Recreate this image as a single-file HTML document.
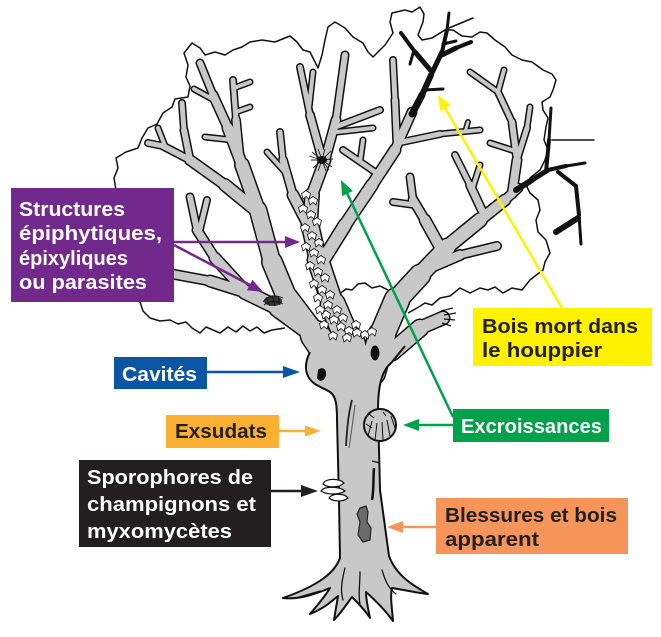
<!DOCTYPE html>
<html><head><meta charset="utf-8"><style>
html,body{margin:0;padding:0;background:#fff;}
svg{display:block;}
text{font-family:"Liberation Sans",Arial,sans-serif;font-weight:700;font-size:20px;}
</style></head><body>
<svg width="661" height="637" viewBox="0 0 661 637" xmlns="http://www.w3.org/2000/svg">
<defs>
<path id="lf" d="M0,-4.5 L4.5,-1.5 L3,4 L0,1.5 L-3,4 L-4.5,-1.5 Z" fill="#fff" stroke="#111" stroke-width="0.8"/>
</defs>
<rect width="661" height="637" fill="#fff"/>

<g fill="none" stroke="#111" stroke-width="1.5" stroke-linejoin="round">
<path d="M150,318 L143,311 L140,302 L132,294 L128,280 L122,265 L118,250 L116,230 L114,210 L116,190 L114,178 L118,168 L116,158 L126,152 L138,148 L142,138 L148,128 L157,124 L163,113 L172,107 L175,99 L188,97 L190,86 L186,77 L188,65 L184,53 L192,43 L200,48 L205,55 L215,52 L225,55 L233,50 L242,47 L250,42 L262,40 L275,42 L290,36 L297,42 L303,50 L310,52 L318,68 L322,55 L325,40 L328,27 L335,22 L345,28 L353,37 L363,43 L368,52 L373,57 L380,50 L385,45 L393,33 L390,22 L392,13 L405,10 L412,12 L420,7 L424,14 L423,22 L418,35 L422,40 L432,38 L445,30 L453,30 L462,36 L472,37 L480,32 L487,33 L495,40 L505,47 L512,55 L522,60 L532,62 L543,70 L552,74 L556,80 L553,90 L550,97 L542,102 L543,110 L548,118 L546,127 L544,140 L548,150 L545,160 L540,170 L530,178 L527,187 L530,193 L538,200 L540,210 L536,220 L538,232 L546,240 L550,253 L545,262 L543,270 L535,276 L530,280 L522,290 L512,288 L503,293 L495,287 L488,290 L480,288 L470,293 L460,288 L450,296 L440,298 L432,305 L425,303 L417,308 L408,313"/>
<path d="M150,318 L160,321 L170,320 L178,324 L186,322 L192,328 L200,333 L206,327 L213,330 L220,333 L228,327 L236,332 L243,326 L250,331 L257,327 L264,333 L272,330 L285,328"/>
<path d="M338,295 L346,289 L352,290 L358,284 L365,283 L372,288 L380,286 L388,290"/>
</g>

<g fill="none" stroke="#111" stroke-linecap="round" stroke-linejoin="round">
<path d="M340,372 L315,335" stroke-width="31"/>
<path d="M315,335 L287,298" stroke-width="24"/>
<path d="M287,298 L272,262" stroke-width="22"/>
<path d="M272,262 L258,210" stroke-width="19"/>
<path d="M258,210 L242,165" stroke-width="16"/>
<path d="M242,165 L228,128" stroke-width="13"/>
<path d="M228,128 L213,95" stroke-width="11"/>
<path d="M213,95 L200,63" stroke-width="9"/>
<path d="M240,160 L236,120" stroke-width="10"/>
<path d="M236,120 L233,80" stroke-width="8"/>
<path d="M236,112 L250,107" stroke-width="7"/>
<path d="M234,88 L250,82" stroke-width="7"/>
<path d="M232,140 L205,137" stroke-width="7"/>
<path d="M214,100 L194,89" stroke-width="7"/>
<path d="M258,212 L225,185" stroke-width="14"/>
<path d="M225,185 L190,160" stroke-width="12"/>
<path d="M190,160 L163,146" stroke-width="9"/>
<path d="M163,146 L148,143" stroke-width="8"/>
<path d="M190,160 L184,130" stroke-width="9"/>
<path d="M184,130 L182,103" stroke-width="8"/>
<path d="M165,146 L158,128" stroke-width="7"/>
<path d="M315,335 L278,308" stroke-width="20"/>
<path d="M278,308 L245,292" stroke-width="16"/>
<path d="M245,292 L210,281" stroke-width="13"/>
<path d="M210,281 L172,274" stroke-width="11"/>
<path d="M248,294 L215,258" stroke-width="13"/>
<path d="M215,258 L197,230" stroke-width="11"/>
<path d="M197,230 L190,197" stroke-width="9"/>
<path d="M199,233 L207,200" stroke-width="8"/>
<path d="M355,372 L350,345" stroke-width="33"/>
<path d="M350,345 L333,305" stroke-width="27"/>
<path d="M333,305 L318,260" stroke-width="23"/>
<path d="M318,260 L310,225" stroke-width="19"/>
<path d="M310,225 L312,195" stroke-width="16"/>
<path d="M312,195 L325,160" stroke-width="13"/>
<path d="M325,160 L336,120" stroke-width="11"/>
<path d="M336,120 L345,55" stroke-width="9"/>
<path d="M338,126 L380,110" stroke-width="8"/>
<path d="M337,132 L373,128" stroke-width="7"/>
<path d="M323,162 L310,115" stroke-width="10"/>
<path d="M310,115 L300,67" stroke-width="8"/>
<path d="M309,108 L313,72" stroke-width="7"/>
<path d="M312,232 L293,195" stroke-width="13"/>
<path d="M293,195 L283,160" stroke-width="10"/>
<path d="M283,160 L280,132" stroke-width="8"/>
<path d="M285,172 L267,152" stroke-width="7"/>
<path d="M322,262 L345,225" stroke-width="15"/>
<path d="M345,225 L372,185" stroke-width="14"/>
<path d="M372,185 L395,150" stroke-width="13"/>
<path d="M395,150 L412,112" stroke-width="11"/>
<path d="M397,147 L395,100" stroke-width="9"/>
<path d="M395,100 L393,60" stroke-width="8"/>
<path d="M402,142 L440,134" stroke-width="8"/>
<path d="M440,134 L480,130" stroke-width="7"/>
<path d="M465,132 L468,122" stroke-width="6"/>
<path d="M375,172 L343,150" stroke-width="8"/>
<path d="M360,162 L363,140" stroke-width="7"/>
<path d="M372,372 L382,335" stroke-width="29"/>
<path d="M382,335 L397,300" stroke-width="27"/>
<path d="M397,300 L420,275" stroke-width="23"/>
<path d="M420,275 L447,247" stroke-width="19"/>
<path d="M447,247 L480,220" stroke-width="16"/>
<path d="M480,220 L505,200" stroke-width="13"/>
<path d="M505,200 L518,188" stroke-width="11"/>
<path d="M440,247 L425,220" stroke-width="13"/>
<path d="M425,220 L413,200" stroke-width="11"/>
<path d="M413,200 L410,177" stroke-width="9"/>
<path d="M415,205 L393,202" stroke-width="8"/>
<path d="M425,270 L460,255" stroke-width="12"/>
<path d="M460,255 L497,246" stroke-width="10"/>
<path d="M485,217 L470,185" stroke-width="10"/>
<path d="M470,185 L455,155" stroke-width="8"/>
<path d="M472,190 L480,165" stroke-width="7"/>
<path d="M512,194 L517,160" stroke-width="11"/>
<path d="M517,160 L512,122" stroke-width="9"/>
<path d="M512,122 L498,92" stroke-width="8"/>
<path d="M498,92 L470,72" stroke-width="7"/>
<path d="M498,92 L504,70" stroke-width="7"/>
<path d="M517,160 L527,128" stroke-width="8"/>
<path d="M527,128 L530,107" stroke-width="7"/>
<path d="M518,152 L490,143" stroke-width="7"/>
<path d="M392,352 L420,328" stroke-width="19"/>
<path d="M420,328 L443,318" stroke-width="15"/>
</g>

<path d="M310,352 C306,360 304,368 308,376 C312,385 322,387 330,392 C336,396 337,405 337,420 L339,500 L340,558 C335,572 320,585 283,598 C300,600 318,593 330,588 C324,598 315,608 310,614 C325,608 333,600 338,596 L334,620 C342,612 348,602 352,597 C358,603 365,610 370,618 C368,608 366,600 366,592 C375,600 385,610 393,621 C392,608 390,597 392,588 C405,590 418,593 428,594 C412,585 396,575 389,556 L380,490 L378,410 C378,385 382,370 392,362 L405,346 L392,345 L372,350 L355,352 L335,350 L325,348 Z" fill="#c8c8c8"/>

<g fill="none" stroke="#c8c8c8" stroke-linecap="round" stroke-linejoin="round">
<path d="M340,372 L315,335" stroke-width="28"/>
<path d="M315,335 L287,298" stroke-width="21"/>
<path d="M287,298 L272,262" stroke-width="19"/>
<path d="M272,262 L258,210" stroke-width="16"/>
<path d="M258,210 L242,165" stroke-width="13"/>
<path d="M242,165 L228,128" stroke-width="10"/>
<path d="M228,128 L213,95" stroke-width="8"/>
<path d="M213,95 L200,63" stroke-width="6"/>
<path d="M240,160 L236,120" stroke-width="7"/>
<path d="M236,120 L233,80" stroke-width="5"/>
<path d="M236,112 L250,107" stroke-width="4"/>
<path d="M234,88 L250,82" stroke-width="4"/>
<path d="M232,140 L205,137" stroke-width="4"/>
<path d="M214,100 L194,89" stroke-width="4"/>
<path d="M258,212 L225,185" stroke-width="11"/>
<path d="M225,185 L190,160" stroke-width="9"/>
<path d="M190,160 L163,146" stroke-width="6"/>
<path d="M163,146 L148,143" stroke-width="5"/>
<path d="M190,160 L184,130" stroke-width="6"/>
<path d="M184,130 L182,103" stroke-width="5"/>
<path d="M165,146 L158,128" stroke-width="4"/>
<path d="M315,335 L278,308" stroke-width="17"/>
<path d="M278,308 L245,292" stroke-width="13"/>
<path d="M245,292 L210,281" stroke-width="10"/>
<path d="M210,281 L172,274" stroke-width="8"/>
<path d="M248,294 L215,258" stroke-width="10"/>
<path d="M215,258 L197,230" stroke-width="8"/>
<path d="M197,230 L190,197" stroke-width="6"/>
<path d="M199,233 L207,200" stroke-width="5"/>
<path d="M355,372 L350,345" stroke-width="30"/>
<path d="M350,345 L333,305" stroke-width="24"/>
<path d="M333,305 L318,260" stroke-width="20"/>
<path d="M318,260 L310,225" stroke-width="16"/>
<path d="M310,225 L312,195" stroke-width="13"/>
<path d="M312,195 L325,160" stroke-width="10"/>
<path d="M325,160 L336,120" stroke-width="8"/>
<path d="M336,120 L345,55" stroke-width="6"/>
<path d="M338,126 L380,110" stroke-width="5"/>
<path d="M337,132 L373,128" stroke-width="4"/>
<path d="M323,162 L310,115" stroke-width="7"/>
<path d="M310,115 L300,67" stroke-width="5"/>
<path d="M309,108 L313,72" stroke-width="4"/>
<path d="M312,232 L293,195" stroke-width="10"/>
<path d="M293,195 L283,160" stroke-width="7"/>
<path d="M283,160 L280,132" stroke-width="5"/>
<path d="M285,172 L267,152" stroke-width="4"/>
<path d="M322,262 L345,225" stroke-width="12"/>
<path d="M345,225 L372,185" stroke-width="11"/>
<path d="M372,185 L395,150" stroke-width="10"/>
<path d="M395,150 L412,112" stroke-width="8"/>
<path d="M397,147 L395,100" stroke-width="6"/>
<path d="M395,100 L393,60" stroke-width="5"/>
<path d="M402,142 L440,134" stroke-width="5"/>
<path d="M440,134 L480,130" stroke-width="4"/>
<path d="M465,132 L468,122" stroke-width="3"/>
<path d="M375,172 L343,150" stroke-width="5"/>
<path d="M360,162 L363,140" stroke-width="4"/>
<path d="M372,372 L382,335" stroke-width="26"/>
<path d="M382,335 L397,300" stroke-width="24"/>
<path d="M397,300 L420,275" stroke-width="20"/>
<path d="M420,275 L447,247" stroke-width="16"/>
<path d="M447,247 L480,220" stroke-width="13"/>
<path d="M480,220 L505,200" stroke-width="10"/>
<path d="M505,200 L518,188" stroke-width="8"/>
<path d="M440,247 L425,220" stroke-width="10"/>
<path d="M425,220 L413,200" stroke-width="8"/>
<path d="M413,200 L410,177" stroke-width="6"/>
<path d="M415,205 L393,202" stroke-width="5"/>
<path d="M425,270 L460,255" stroke-width="9"/>
<path d="M460,255 L497,246" stroke-width="7"/>
<path d="M485,217 L470,185" stroke-width="7"/>
<path d="M470,185 L455,155" stroke-width="5"/>
<path d="M472,190 L480,165" stroke-width="4"/>
<path d="M512,194 L517,160" stroke-width="8"/>
<path d="M517,160 L512,122" stroke-width="6"/>
<path d="M512,122 L498,92" stroke-width="5"/>
<path d="M498,92 L470,72" stroke-width="4"/>
<path d="M498,92 L504,70" stroke-width="4"/>
<path d="M517,160 L527,128" stroke-width="5"/>
<path d="M527,128 L530,107" stroke-width="4"/>
<path d="M518,152 L490,143" stroke-width="4"/>
<path d="M392,352 L420,328" stroke-width="16"/>
<path d="M420,328 L443,318" stroke-width="12"/>
</g>

<path d="M310,352 C306,360 304,368 308,376 C312,385 322,387 330,392 C336,396 337,405 337,420 L339,500 L340,558 C335,572 320,585 283,598 C300,600 318,593 330,588 C324,598 315,608 310,614 C325,608 333,600 338,596 L334,620 C342,612 348,602 352,597 C358,603 365,610 370,618 C368,608 366,600 366,592 C375,600 385,610 393,621 C392,608 390,597 392,588 C405,590 418,593 428,594 C412,585 396,575 389,556 L380,490 L378,410 C378,385 382,370 392,362 L405,346" fill="none" stroke="#111" stroke-width="2" stroke-linejoin="round"/>
<g fill="none" stroke="#111" stroke-width="1.3" stroke-linecap="round">
<path d="M345,568 C342,580 340,590 343,600"/>
<path d="M360,572 C360,585 358,595 360,604"/>
<path d="M382,570 C385,580 388,588 396,594"/>
<path d="M320,591 L296,598"/>
</g>

<g fill="none" stroke="#111" stroke-linecap="round" stroke-linejoin="round">
<path d="M412,114 L422,95" stroke-width="7"/>
<path d="M422,95 L431,75" stroke-width="6"/>
<path d="M431,75 L442,52" stroke-width="5"/>
<path d="M442,52 L447,30" stroke-width="4"/>
<path d="M447,30 L449,13" stroke-width="3"/>
<path d="M432,72 L415,52" stroke-width="5"/>
<path d="M415,52 L401,33" stroke-width="4"/>
<path d="M414,50 L410,64" stroke-width="3"/>
<path d="M440,56 L456,48" stroke-width="5"/>
<path d="M456,48 L471,42" stroke-width="4"/>
<path d="M443,44 L456,41" stroke-width="3"/>
<path d="M424,90 L443,89" stroke-width="3"/>
<path d="M449,28 L473,18" stroke-width="1.5"/>
<path d="M516,190 L532,180" stroke-width="6"/>
<path d="M532,180 L548,170" stroke-width="5"/>
<path d="M548,170 L566,166" stroke-width="4"/>
<path d="M566,166 L585,163" stroke-width="3"/>
<path d="M546,172 L549,140" stroke-width="4"/>
<path d="M549,140 L551,108" stroke-width="3"/>
<path d="M552,140 L594,140" stroke-width="1.5"/>
<path d="M558,172 L576,186" stroke-width="4"/>
<path d="M576,186 L579,215" stroke-width="4"/>
<path d="M579,215 L581,244" stroke-width="3"/>
<path d="M578,218 L556,232" stroke-width="6"/>
</g>

<path d="M441,311 L453,308 M444,315 L456,313 M444,319 L455,320 M442,323 L451,326" stroke="#111" stroke-width="1.3" fill="none"/>

<g>
<use href="#lf" x="306" y="195"/><use href="#lf" x="313" y="201"/><use href="#lf" x="303" y="209"/>
<use href="#lf" x="311" y="215"/><use href="#lf" x="317" y="222"/><use href="#lf" x="305" y="228"/>
<use href="#lf" x="312" y="236"/><use href="#lf" x="319" y="243"/><use href="#lf" x="306" y="247"/>
<use href="#lf" x="314" y="253"/><use href="#lf" x="321" y="260"/><use href="#lf" x="310" y="266"/>
<use href="#lf" x="318" y="272"/><use href="#lf" x="325" y="278"/><use href="#lf" x="314" y="284"/>
<use href="#lf" x="322" y="290"/><use href="#lf" x="330" y="295"/><use href="#lf" x="318" y="298"/>
<use href="#lf" x="328" y="305"/><use href="#lf" x="337" y="310"/><use href="#lf" x="326" y="315"/>
<use href="#lf" x="334" y="320"/><use href="#lf" x="343" y="318"/><use href="#lf" x="341" y="327"/>
<use href="#lf" x="349" y="331"/><use href="#lf" x="357" y="333"/><use href="#lf" x="347" y="338"/>
<use href="#lf" x="365" y="335"/><use href="#lf" x="372" y="332"/><use href="#lf" x="356" y="325"/>
<use href="#lf" x="320" y="310"/><use href="#lf" x="324" y="325"/><use href="#lf" x="333" y="336"/>
</g>

<path d="M322,160 L312,152 M322,160 L311,160 M322,160 L313,168 M322,160 L318,171 M322,160 L326,171 M322,160 L332,167 M322,160 L333,159 M322,160 L331,151 M322,160 L325,149 M322,160 L318,149 M322,160 L309,156 M322,160 L329,170" stroke="#222" stroke-width="0.9" fill="none"/>
<ellipse cx="322" cy="160" rx="5" ry="4" fill="#111"/>

<ellipse cx="273" cy="301" rx="9" ry="5" fill="#333"/>
<path d="M263,302 C267,296 274,294 283,298 M264,305 C270,300 278,301 283,304 M266,297 L270,306 M272,295 L275,306 M278,296 L280,305" stroke="#111" stroke-width="0.9" fill="none"/>

<ellipse cx="375" cy="353" rx="4.5" ry="7.5" fill="#111"/>
<path d="M318,370 C322,366 327,369 326,375 C325,381 319,383 317,378 Z" fill="#111"/>
<path d="M352,400 C348,415 347,430 346,446" fill="none" stroke="#222" stroke-width="1.8"/>
<path d="M355,405 C353,420 351,435 349,448" fill="none" stroke="#555" stroke-width="1"/>
<path d="M374,468 C373,480 374,490 372,500" fill="none" stroke="#111" stroke-width="2.5"/>
<path d="M372,461 L380,463" fill="none" stroke="#111" stroke-width="1.2"/>
<path d="M360,508 L366,506 L368,512 L367,522 L371,528 L370,540 L363,542 L358,535 L360,522 L357,514 Z" fill="#6b6b6b" stroke="#222" stroke-width="1.2"/>
<circle cx="380" cy="425" r="16" fill="#c8c8c8" stroke="#111" stroke-width="2"/>
<path d="M372,421 L368,436 M377,423 L375,440 M382,422 L383,440 M387,420 L390,436 M391,416 L395,428 M369,414 L374,418 M383,412 L386,416 M366,424 L372,428" stroke="#111" stroke-width="1" fill="none"/>
<g fill="#fff" stroke="#111" stroke-width="1.2">
<path d="M323,484 C325,478 339,478 344,483 C339,488 328,488 323,484 Z"/>
<path d="M321,491 C324,486 339,486 345,491 C339,495 327,495 321,491 Z"/>
<path d="M329,498 C332,493 344,493 348,498 C343,502 334,502 329,498 Z"/>
</g>

<g stroke-width="2.5" fill="none">
<path d="M174,242 L288,242" stroke="#712a8c"/>
<path d="M174,245 L250,285" stroke="#712a8c"/>
<path d="M207,372 L288,372" stroke="#0a56a5"/>
<path d="M279,431 L306,431" stroke="#fbb034"/>
<path d="M271,491 L302,491" stroke="#231f20"/>
<path d="M453,425 L418,425" stroke="#00a14b"/>
<path d="M453,417 L347,193" stroke="#00a14b"/>
<path d="M562,308 L445,108" stroke="#fff200"/>
<path d="M436,527 L402,527" stroke="#f6955a"/>
</g>
<polygon points="300,242 285,236 285,248" fill="#712a8c"/>
<polygon points="263,292 252.5,279.7 246.9,290.3" fill="#712a8c"/>
<polygon points="300,372 283,366 283,378" fill="#0a56a5"/>
<polygon points="321,431 305,425.5 305,436.5" fill="#fbb034"/>
<polygon points="318,491 301,485 301,497" fill="#231f20"/>
<polygon points="403,425 419,419 419,431" fill="#00a14b"/>
<polygon points="341,180 352.8,191 342,196.2" fill="#00a14b"/>
<polygon points="438,95 450.7,105 440.3,111" fill="#fff200"/>
<polygon points="387,527 403,521 403,533" fill="#f6955a"/>

<rect x="11" y="188" width="163" height="114" fill="#712a8c"/>
<text x="19" y="216" fill="#fff" textLength="106" lengthAdjust="spacingAndGlyphs">Structures</text>
<text x="19" y="240" fill="#fff" textLength="143" lengthAdjust="spacingAndGlyphs">épiphytiques,</text>
<text x="19" y="265" fill="#fff" textLength="109" lengthAdjust="spacingAndGlyphs">épixyliques</text>
<text x="19" y="289" fill="#fff" textLength="128" lengthAdjust="spacingAndGlyphs">ou parasites</text>

<rect x="114" y="357" width="93" height="32" fill="#0a56a5"/>
<text x="122" y="381" fill="#fff" textLength="75" lengthAdjust="spacingAndGlyphs">Cavités</text>

<rect x="166" y="415" width="113" height="33" fill="#fbb034"/>
<text x="175" y="438" fill="#231f20" textLength="92" lengthAdjust="spacingAndGlyphs">Exsudats</text>

<rect x="79" y="460" width="192" height="87" fill="#231f20"/>
<text x="87" y="484" fill="#fff" textLength="166" lengthAdjust="spacingAndGlyphs">Sporophores de</text>
<text x="87" y="511" fill="#fff" textLength="169" lengthAdjust="spacingAndGlyphs">champignons et</text>
<text x="87" y="538" fill="#fff" textLength="145" lengthAdjust="spacingAndGlyphs">myxomycètes</text>

<rect x="473" y="308" width="179" height="58" fill="#fff200"/>
<text x="482" y="333" fill="#231f20" textLength="156" lengthAdjust="spacingAndGlyphs">Bois mort dans</text>
<text x="482" y="357" fill="#231f20" textLength="120" lengthAdjust="spacingAndGlyphs">le houppier</text>

<rect x="453" y="409" width="156" height="33" fill="#00a14b"/>
<text x="461" y="433" fill="#fff" textLength="141" lengthAdjust="spacingAndGlyphs">Excroissances</text>

<rect x="436" y="498" width="192" height="56" fill="#f6955a"/>
<text x="445" y="522" fill="#231f20" textLength="172" lengthAdjust="spacingAndGlyphs">Blessures et bois</text>
<text x="445" y="546" fill="#231f20" textLength="94" lengthAdjust="spacingAndGlyphs">apparent</text>
</svg>
</body></html>
